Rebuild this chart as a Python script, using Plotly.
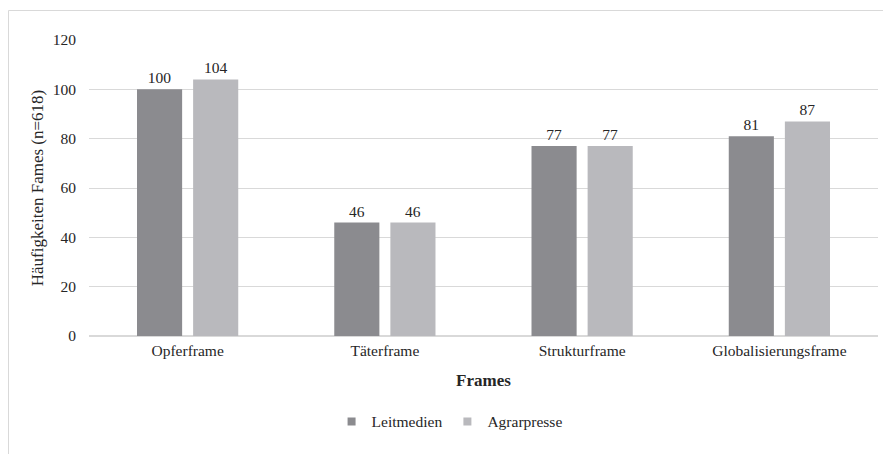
import plotly.graph_objects as go

categories = ["Opferframe", "Täterframe", "Strukturframe", "Globalisierungsframe"]
leitmedien = [100, 46, 77, 81]
agrarpresse = [104, 46, 77, 87]
y_ticks = [0, 20, 40, 60, 80, 100, 120]

FONT = "Liberation Serif, Times New Roman, serif"
TXT = "#262626"
C_DARK = "#8b8b8f"
C_LIGHT = "#b9b9bd"

fig = go.Figure()
fig.add_trace(go.Bar(
    name="Leitmedien", x=categories, y=leitmedien, showlegend=False,
    marker=dict(color=C_DARK, line=dict(width=0)),
    text=[str(v) for v in leitmedien], textposition="outside",
    textfont=dict(family=FONT, size=15.5, color=TXT), cliponaxis=False,
))
fig.add_trace(go.Bar(
    name="Agrarpresse", x=categories, y=agrarpresse, showlegend=False,
    marker=dict(color=C_LIGHT, line=dict(width=0)),
    text=[str(v) for v in agrarpresse], textposition="outside",
    textfont=dict(family=FONT, size=15.5, color=TXT), cliponaxis=False,
))
# legend entries with small square swatches
for nm, col in [("Leitmedien", C_DARK), ("Agrarpresse", C_LIGHT)]:
    fig.add_trace(go.Scatter(
        name=nm, x=[categories[0]], y=[None], mode="markers",
        marker=dict(symbol="square", size=8, color=col), showlegend=True,
        hoverinfo="skip",
    ))

fig.update_layout(
    width=891, height=454,
    margin=dict(l=81, r=21, t=32, b=126),
    paper_bgcolor="white", plot_bgcolor="white",
    font=dict(family=FONT, size=15, color=TXT),
    barmode="group", bargap=0.431, bargroupgap=0.196,
    showlegend=True,
    legend=dict(orientation="h", x=0.457, xanchor="center", y=-0.29, yanchor="middle",
                font=dict(family=FONT, size=15.5, color=TXT), itemwidth=30,
                traceorder="normal"),
    xaxis=dict(
        title=dict(text="<b>Frames</b>", font=dict(family=FONT, size=17, color=TXT), standoff=16),
        showgrid=False, showline=False, ticks="", ticklabelstandoff=3,
        tickfont=dict(family=FONT, size=15.5, color=TXT),
    ),
    yaxis=dict(
        title=dict(text="Häufigkeiten Fames (n=618)", font=dict(family=FONT, size=17, color=TXT), standoff=4),
        range=[0, 120], tickvals=y_ticks, showgrid=True, gridcolor="#d9d9d9", gridwidth=1,
        zeroline=True, zerolinecolor="#d9d9d9", zerolinewidth=1.5, showline=False,
        ticks="", ticklabelstandoff=12, tickfont=dict(family=FONT, size=15.5, color=TXT),
    ),
    shapes=[dict(type="rect", xref="paper", yref="paper",
                 x0=(0.5 - 81) / 789, x1=1.1, y0=-0.6, y1=(336 - 10.5) / 296,
                 line=dict(color="#d9d9d9", width=1), layer="below")],
)

fig.write_html("out.html")
